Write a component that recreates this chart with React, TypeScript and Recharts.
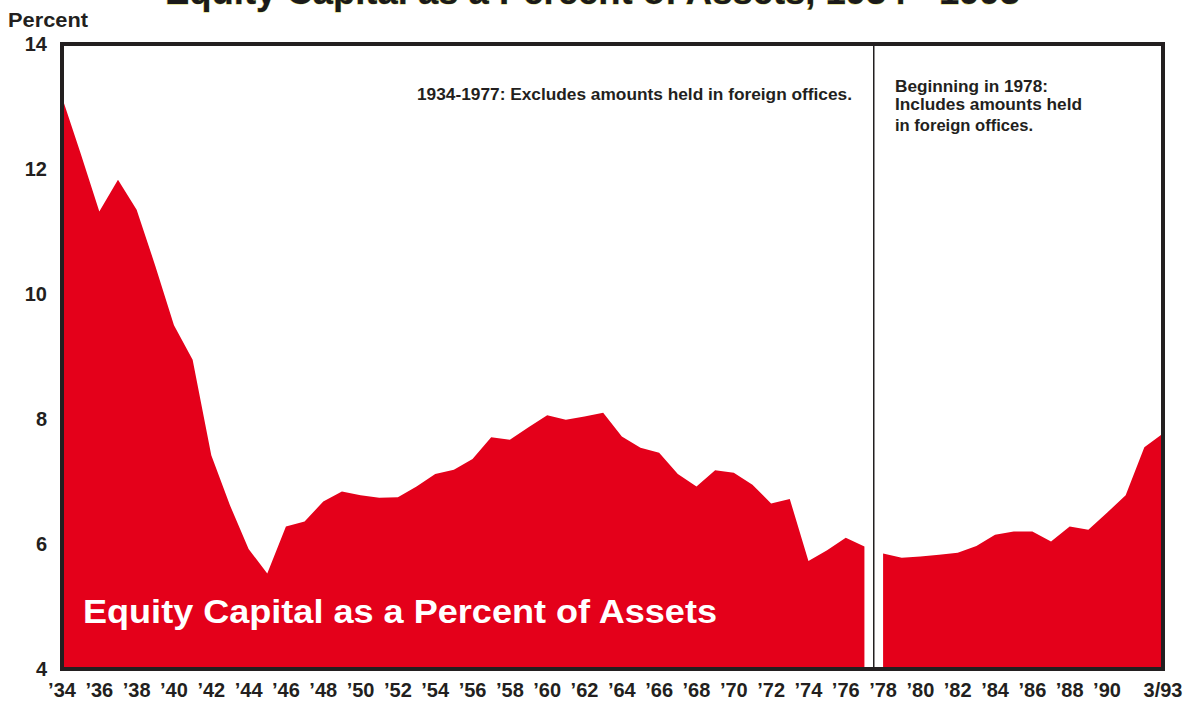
import React from 'react';
import { AreaChart, Area, XAxis, YAxis, ReferenceLine, ReferenceArea } from 'recharts';

// Years 1934-1977 (excludes amounts held in foreign offices)
const preYears = [
  1934, 1935, 1936, 1937, 1938, 1939, 1940, 1941, 1942, 1943, 1944, 1945,
  1946, 1947, 1948, 1949, 1950, 1951, 1952, 1953, 1954, 1955, 1956, 1957,
  1958, 1959, 1960, 1961, 1962, 1963, 1964, 1965, 1966, 1967, 1968, 1969,
  1970, 1971, 1972, 1973, 1974, 1975, 1976, 1977,
];
const preValues = [
  13.15, 12.25, 11.32, 11.83, 11.35, 10.45, 9.5, 8.95, 7.42, 6.62, 5.92, 5.53,
  6.28, 6.36, 6.68, 6.84, 6.78, 6.74, 6.75, 6.92, 7.12, 7.19, 7.36, 7.71,
  7.67, 7.87, 8.06, 7.99, 8.04, 8.1, 7.72, 7.54, 7.46, 7.12, 6.92, 7.18,
  7.14, 6.95, 6.65, 6.72, 5.73, 5.9, 6.1, 5.96,
];

// 1978 onward (includes amounts held in foreign offices); last point is 3/93
const postYears = [
  1978, 1979, 1980, 1981, 1982, 1983, 1984, 1985, 1986, 1987, 1988, 1989,
  1990, 1991, 1992, 1993,
];
const postValues = [
  5.85, 5.78, 5.8, 5.83, 5.86, 5.97, 6.15, 6.2, 6.2, 6.04, 6.28, 6.23,
  6.5, 6.78, 7.55, 7.77,
];

const xTicks = [
  1934, 1936, 1938, 1940, 1942, 1944, 1946, 1948, 1950, 1952, 1954, 1956,
  1958, 1960, 1962, 1964, 1966, 1968, 1970, 1972, 1974, 1976, 1978, 1980,
  1982, 1984, 1986, 1988, 1990, 1993,
];
const lastTickLabel = '3/93';
const yTicks = [4, 6, 8, 10, 12, 14];

const breakYear = 1977.5;

const chartTitle = 'Equity Capital as a Percent of Assets, 1934 - 1993';
const seriesLabel = 'Equity Capital as a Percent of Assets';
const yAxisLabel = 'Percent';
const noteBefore = '1934-1977: Excludes amounts held in foreign offices.';
const noteAfter = ['Beginning in 1978:', 'Includes amounts held', 'in foreign offices.'];

const data = [
  ...preYears.map((year, i) => ({ year, pre: preValues[i], post: null as number | null })),
  ...postYears.map((year, i) => ({ year, pre: null as number | null, post: postValues[i] })),
];

const FONT = '"Liberation Sans", Arial, Helvetica, sans-serif';
const RED = '#e4001a';
const INK = '#231f20';

const formatYear = (v: number) => (v === 1993 ? lastTickLabel : '\u2019' + String(v).slice(2));

export default function App() {
  return (
    <div style={{ position: 'absolute', left: 0, top: 0, width: 1195, height: 704, background: '#fff' }}>
      <AreaChart
        width={1195}
        height={704}
        data={data}
        margin={{ top: 44, right: 32, bottom: 0, left: 0 }}
      >
        <XAxis
          dataKey="year"
          type="number"
          domain={[1934, 1993]}
          ticks={xTicks}
          interval={0}
          tickFormatter={formatYear}
          tickLine={false}
          axisLine={false}
          tickSize={0}
          tickMargin={14}
          height={35}
          tick={{ fill: INK, fontSize: 20, fontWeight: 'bold', fontFamily: FONT }}
        />
        <YAxis
          type="number"
          domain={[4, 14]}
          ticks={yTicks}
          interval={0}
          tickLine={false}
          axisLine={false}
          tickSize={0}
          tickMargin={15}
          width={62}
          tick={{ fill: INK, fontSize: 20, fontWeight: 'bold', fontFamily: FONT }}
        />
        <Area
          type="linear"
          dataKey="pre"
          stroke="none"
          fill={RED}
          fillOpacity={1}
          connectNulls={false}
          isAnimationActive={false}
          dot={false}
          activeDot={false}
        />
        <Area
          type="linear"
          dataKey="post"
          stroke="none"
          fill={RED}
          fillOpacity={1}
          connectNulls={false}
          isAnimationActive={false}
          dot={false}
          activeDot={false}
        />
        <ReferenceLine x={breakYear} stroke={INK} strokeWidth={1.5} ifOverflow="visible" />
        <ReferenceArea
          x1={1934}
          x2={1993}
          y1={4}
          y2={14}
          fill="none"
          fillOpacity={0}
          stroke={INK}
          strokeWidth={4}
          ifOverflow="visible"
        />
      </AreaChart>
      <svg
        width={1195}
        height={704}
        style={{ position: 'absolute', left: 0, top: 0, pointerEvents: 'none' }}
      >
        <text
          x={165}
          y={4}
          fontFamily={FONT}
          fontWeight="bold"
          fontSize={36}
          fill="#1a1a1a"
          stroke="#d9d45a"
          strokeWidth={0.8}
          paintOrder="stroke"
          textLength={855}
          lengthAdjust="spacingAndGlyphs"
        >
          {chartTitle}
        </text>
        <text x={8} y={27} fontFamily={FONT} fontWeight="bold" fontSize={21} fill={INK} textLength={80} lengthAdjust="spacingAndGlyphs">
          {yAxisLabel}
        </text>
        <text
          x={417}
          y={100}
          fontFamily={FONT}
          fontWeight="bold"
          fontSize={16}
          fill={INK}
          textLength={435}
          lengthAdjust="spacingAndGlyphs"
        >
          {noteBefore}
        </text>
        {noteAfter.map((line, i) => (
          <text
            key={line}
            x={895}
            y={[92, 110, 131][i]}
            fontFamily={FONT}
            fontWeight="bold"
            fontSize={16}
            fill={INK}
            textLength={[153, 187, 138][i]}
            lengthAdjust="spacingAndGlyphs"
          >
            {line}
          </text>
        ))}
        <text
          x={83}
          y={623}
          fontFamily={FONT}
          fontWeight="bold"
          fontSize={34}
          fill="#ffffff"
          textLength={634}
          lengthAdjust="spacingAndGlyphs"
        >
          {seriesLabel}
        </text>
      </svg>
    </div>
  );
}
